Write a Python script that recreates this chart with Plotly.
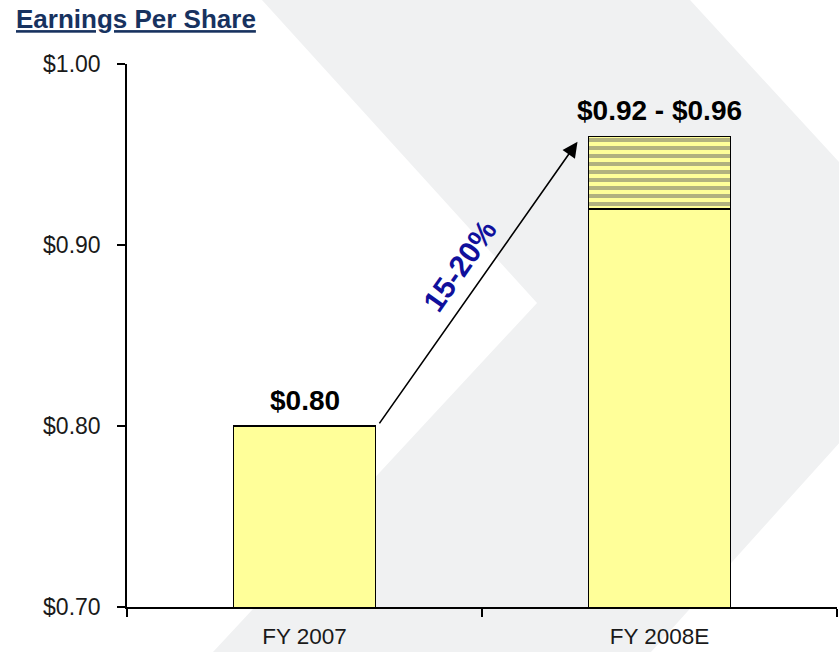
import plotly.graph_objects as go

categories = ["FY 2007", "FY 2008E"]
eps_base = [0.80, 0.92]
range_cat = ["FY 2008E"]
range_increment = [0.04]
value_labels = ["$0.80", "$0.92 - $0.96"]
label_y = [0.80, 0.96]
growth_text = "15-20%"
y_ticks = [0.70, 0.80, 0.90, 1.00]

W, H = 839, 652
L, R, T, B = 127, 2, 64, 45
PW, PH = W - L - R, H - T - B

def px(x):
    return (x - L) / PW

def py(y):
    return (H - B - y) / PH

FONT = "Liberation Sans, Arial, sans-serif"

fig = go.Figure()
fig.add_trace(go.Bar(
    x=categories, y=eps_base, width=0.4,
    marker=dict(color="#ffff99", line=dict(color="black", width=1.5)),
    showlegend=False, hoverinfo="skip"))
fig.add_trace(go.Bar(
    x=range_cat, y=range_increment, width=0.4,
    marker=dict(color="#ffff99", line=dict(color="black", width=1.5),
                pattern=dict(shape="-", fgcolor="#666666", bgcolor="#ffff99",
                             size=8, solidity=0.5, fillmode="overlay")),
    showlegend=False, hoverinfo="skip"))

# background chevron shape
poly = [(262, 0), (537, 303), (213, 652), (651, 652), (967, 301), (690, 0)]
path = "M " + " L ".join(f"{px(a):.4f},{py(b):.4f}" for a, b in poly) + " Z"
shapes = [dict(type="path", xref="paper", yref="paper", path=path,
               fillcolor="#f0f1f2", line=dict(width=0), layer="below")]

annotations = []
for c, t, yv in zip(categories, value_labels, label_y):
    annotations.append(dict(x=c, y=yv, text=f"<b>{t}</b>", showarrow=False,
                            yanchor="bottom", yshift=8,
                            font=dict(family=FONT, size=28, color="black")))
# arrow
annotations.append(dict(x=0.769, y=0.957, ax=0.208, ay=0.8006, xref="x", yref="y",
                        axref="x", ayref="y", text="", showarrow=True,
                        arrowhead=2, arrowsize=1.9, arrowwidth=1.6, arrowcolor="black"))
annotations.append(dict(x=px(459), y=py(266), xref="paper", yref="paper",
                        text=f"<b>{growth_text}</b>", showarrow=False, textangle=-55,
                        font=dict(family=FONT, size=30, color="#10109c")))

fig.update_layout(
    width=W, height=H,
    margin=dict(l=L, r=R, t=T, b=B),
    paper_bgcolor="white", plot_bgcolor="rgba(0,0,0,0)",
    barmode="stack", bargap=0.6,
    shapes=shapes, annotations=annotations,
    title=dict(text="<b>Earnings Per Share</b>", x=16 / W, xanchor="left",
               xref="container", y=1 - 19 / H, yref="container", yanchor="middle",
               font=dict(family=FONT, size=26, color="#17325f", lineposition="under")),
    xaxis=dict(showline=True, linecolor="black", linewidth=1.5, automargin=False,
               ticks="outside", tickson="boundaries", ticklen=8, tickcolor="black",
               tickwidth=1.5, showgrid=False, ticklabelstandoff=8,
               tickfont=dict(family=FONT, size=22.5, color="#1a1a1a")),
    yaxis=dict(range=[0.70, 1.00], tickvals=y_ticks, tickformat="$.2f",
               showline=True, linecolor="black", linewidth=1.5, automargin=False,
               ticks="outside", ticklen=8, tickcolor="black", tickwidth=1.5,
               showgrid=False, zeroline=False, ticklabelstandoff=12,
               tickfont=dict(family=FONT, size=23, color="#1a1a1a")),
)

fig.write_html("out.html", config={"displayModeBar": False},
               post_script="document.body.style.margin='0';document.body.style.padding='0';")
